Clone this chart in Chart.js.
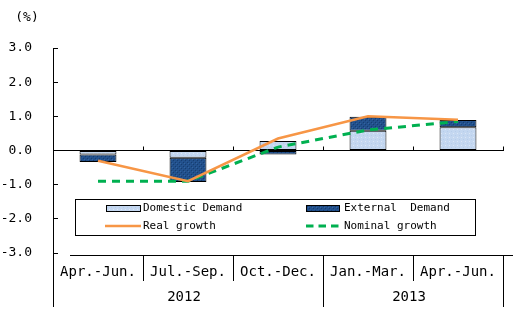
<!DOCTYPE html>
<html>
<head>
<meta charset="utf-8">
<script src="https://cdn.jsdelivr.net/npm/chart.js@4.4.0/dist/chart.umd.min.js"></script>
<style>
  html, body { margin: 0; padding: 0; background: #fff; }
  #myChart { display: block; }
</style>
</head>
<body>
<canvas id="myChart" width="513" height="324"></canvas>
<script>
//** CHART DATA */
const quarters = ['Apr.-Jun.', 'Jul.-Sep.', 'Oct.-Dec.', 'Jan.-Mar.', 'Apr.-Jun.'];
const years = ['2012', '2013'];
const yearSpans = [3, 2];
const domesticDemand = [-0.12, -0.21, 0.28, 0.58, 0.68];
const externalDemand = [-0.22, -0.71, -0.12, 0.41, 0.21];
const realGrowth = [-0.3, -0.9, 0.35, 1.0, 0.9];
const nominalGrowth = [-0.9, -0.9, 0.1, 0.6, 0.85];

const FONT = "'DejaVu Sans Mono', monospace";
const ORANGE = 'rgb(247,150,70)';
const GREEN = 'rgb(0,176,80)';

//** SPECKLED FILLS LIKE THE OLD EXCEL TEXTURES */
function makePattern(base, dots) {
  const c = document.createElement('canvas');
  c.width = 4; c.height = 4;
  const g = c.getContext('2d');
  g.fillStyle = base;
  g.fillRect(0, 0, 4, 4);
  dots.forEach(d => { g.fillStyle = d[2]; g.fillRect(d[0], d[1], 1, 1); });
  return g.createPattern(c, 'repeat');
}
const lightFill = makePattern('#C4D7F0', [[1, 1, '#DCE7F6'], [3, 3, '#B7CDEA']]);
const darkFill = makePattern('#21508C', [[1, 0, '#173D70'], [3, 2, '#173D70'], [0, 3, '#3464A0'], [2, 1, '#2B5894']]);

const al = v => Math.round(v - 0.5) + 0.5;

//** INWARD TICKS, CATEGORY TABLE, UNIT LABEL AND LEGEND BOX */
const tablePlugin = {
  id: 'categoryTable',
  afterDraw(chart) {
    const ctx = chart.ctx;
    const xs = chart.scales.x;
    const ys = chart.scales.y;
    const area = chart.chartArea;
    const half = (area.right - area.left) / quarters.length / 2;
    const edge = i => i < quarters.length ? xs.getPixelForValue(i) - half : xs.getPixelForValue(i - 1) + half;

    ctx.save();
    ctx.strokeStyle = '#000';
    ctx.lineWidth = 1;
    ctx.beginPath();
    // y ticks pointing into the plot
    ys.ticks.forEach(t => {
      const py = al(ys.getPixelForValue(t.value));
      ctx.moveTo(area.left, py);
      ctx.lineTo(area.left + 5, py);
    });
    // category ticks pointing up from the zero line
    const zero = al(ys.getPixelForValue(0));
    for (let i = 1; i <= quarters.length; i++) {
      const px = al(edge(i));
      ctx.moveTo(px, zero);
      ctx.lineTo(px, zero - 4);
    }
    // axis carried down through the table
    ctx.moveTo(al(area.left), area.bottom);
    ctx.lineTo(al(area.left), 307);
    // table top line
    ctx.moveTo(70, 255.5);
    ctx.lineTo(513, 255.5);
    // separators
    const yearEdges = [0];
    yearSpans.forEach(s => yearEdges.push(yearEdges[yearEdges.length - 1] + s));
    for (let i = 1; i <= quarters.length; i++) {
      const px = al(edge(i));
      ctx.moveTo(px, 255);
      ctx.lineTo(px, yearEdges.includes(i) ? 307 : 281);
    }
    ctx.stroke();

    ctx.fillStyle = '#000';
    ctx.textAlign = 'center';
    ctx.textBaseline = 'middle';
    ctx.font = '14px ' + FONT;
    quarters.forEach((q, i) => ctx.fillText(q, xs.getPixelForValue(i), 272));
    years.forEach((yr, k) => {
      const mid = (edge(yearEdges[k]) + edge(yearEdges[k + 1])) / 2;
      ctx.fillText(yr, mid - 4, 297);
    });

    ctx.font = '13px ' + FONT;
    ctx.fillText('(%)', 27, 18);

    // legend box
    ctx.fillStyle = '#fff';
    ctx.fillRect(75.5, 199.5, 400, 36);
    ctx.strokeRect(75.5, 199.5, 400, 36);

    ctx.fillStyle = lightFill;
    ctx.fillRect(106.5, 205.5, 34, 6);
    ctx.strokeRect(106.5, 205.5, 34, 6);
    ctx.fillStyle = darkFill;
    ctx.fillRect(306.5, 205.5, 33, 6);
    ctx.strokeRect(306.5, 205.5, 33, 6);

    ctx.lineWidth = 2.5;
    ctx.strokeStyle = ORANGE;
    ctx.beginPath();
    ctx.moveTo(105, 226);
    ctx.lineTo(141, 226);
    ctx.stroke();
    ctx.lineWidth = 3;
    ctx.strokeStyle = GREEN;
    ctx.setLineDash([7.5, 5]);
    ctx.beginPath();
    ctx.moveTo(306, 226);
    ctx.lineTo(340, 226);
    ctx.stroke();
    ctx.setLineDash([]);

    ctx.fillStyle = '#000';
    ctx.textAlign = 'left';
    ctx.font = '11px ' + FONT;
    ctx.fillText('Domestic Demand', 143, 208);
    ctx.fillText('External  Demand', 344, 208);
    ctx.fillText('Real growth', 143, 226);
    ctx.fillText('Nominal growth', 344, 226);
    ctx.restore();
  }
};

const data = {
  labels: quarters,
  datasets: [
    {
      type: 'line',
      label: 'Real growth',
      data: realGrowth,
      stack: 'real',
      borderColor: ORANGE,
      borderWidth: 2.5,
      pointRadius: 0,
      tension: 0,
      fill: false,
      order: 0,
    },
    {
      type: 'line',
      label: 'Nominal growth',
      data: nominalGrowth,
      stack: 'nominal',
      borderColor: GREEN,
      borderWidth: 3,
      borderDash: [8, 6],
      pointRadius: 0,
      tension: 0,
      fill: false,
      order: 0,
    },
    {
      type: 'bar',
      label: 'Domestic Demand',
      data: domesticDemand,
      stack: 'bars',
      backgroundColor: lightFill,
      borderColor: '#000',
      borderWidth: 1,
      borderSkipped: false,
      order: 1,
    },
    {
      type: 'bar',
      label: 'External  Demand',
      data: externalDemand,
      stack: 'bars',
      backgroundColor: darkFill,
      borderColor: '#000',
      borderWidth: 1,
      borderSkipped: false,
      order: 1,
    },
  ],
};

const config = {
  type: 'bar',
  data: data,
  options: {
    responsive: false,
    animation: false,
    devicePixelRatio: 1,
    categoryPercentage: 1,
    barPercentage: 0.41,
    layout: { padding: { top: 48, bottom: 71, left: 0, right: 10 } },
    plugins: {
      legend: { display: false },
      tooltip: { enabled: false },
    },
    scales: {
      x: {
        stacked: true,
        position: { y: 0 },
        grid: { display: false },
        border: { color: '#000', width: 1 },
        ticks: { display: false },
      },
      y: {
        stacked: true,
        min: -3,
        max: 3,
        afterFit: (scale) => { scale.width = 53; },
        ticks: {
          stepSize: 1,
          padding: 21,
          color: '#000',
          font: { family: FONT, size: 13 },
          callback: (v) => v.toFixed(1),
        },
        grid: { drawOnChartArea: false, drawTicks: false },
        border: { color: '#000', width: 1 },
      },
    },
  },
  plugins: [tablePlugin],
};

const chart = new Chart(document.getElementById('myChart'), config);
</script>
</body>
</html>
